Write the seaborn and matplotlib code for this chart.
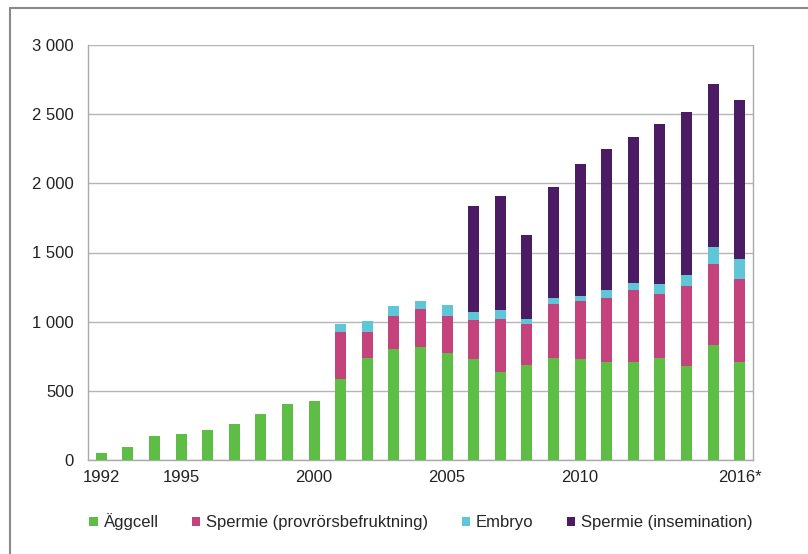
import pandas as pd
import numpy as np
import seaborn as sns
import matplotlib.pyplot as plt
from matplotlib.patches import Patch
from matplotlib.lines import Line2D

# Data
years = [str(y) for y in range(1992, 2016)] + ['2016*']
aggcell = [50, 95, 170, 185, 220, 260, 335, 405, 425, 585, 740, 805, 820,
           770, 730, 635, 690, 740, 730, 705, 705, 735, 680, 830, 705]
spermie_ivf = [0, 0, 0, 0, 0, 0, 0, 0, 0, 342, 186, 236, 270,
               272, 284, 386, 296, 391, 417, 465, 525, 465, 578, 590, 605]
embryo = [0, 0, 0, 0, 0, 0, 0, 0, 0, 53, 79, 70, 63,
          75, 56, 60, 32, 41, 36, 60, 49, 70, 78, 120, 142]
spermie_ins = [0, 0, 0, 0, 0, 0, 0, 0, 0, 0, 0, 0, 0,
               0, 764, 829, 605, 798, 959, 1020, 1053, 1160, 1181, 1175, 1147]
shown_labels = ['1992', '1995', '2000', '2005', '2010', '2016*']

series = ['Äggcell', 'Spermie (provrörsbefruktning)', 'Embryo', 'Spermie (insemination)']
colors = ['#5dbd45', '#c4437c', '#5ec6d6', '#4b1c63']

df = pd.DataFrame({'year': years, series[0]: aggcell, series[1]: spermie_ivf,
                   series[2]: embryo, series[3]: spermie_ins})
cum = df[series].cumsum(axis=1)

sns.set_style('white')
plt.rcParams['font.family'] = ['Liberation Sans', 'DejaVu Sans']

fig = plt.figure(figsize=(8.08, 5.54), dpi=100)
ax = fig.add_axes([88 / 808, 1 - 460 / 554, 665 / 808, 415 / 554])

# stacked bars: draw cumulative totals from the top layer down
for name, col in zip(series[::-1], colors[::-1]):
    sns.barplot(x=df['year'], y=cum[name], color=col, width=0.42,
                saturation=1, linewidth=0, edgecolor='none', ax=ax, zorder=3)

ax.set_xlim(-0.5, len(years) - 0.5)
ax.set_ylim(0, 3000)
ax.set_yticks(np.arange(0, 3001, 500))
ax.set_yticklabels([f'{v:,}'.replace(',', ' ') for v in range(0, 3001, 500)])
ax.set_xticks(range(len(years)))
ax.set_xticklabels([y if y in shown_labels else '' for y in years])
ax.set_xticks(np.arange(-0.5, len(years), 1), minor=True)
ax.tick_params(axis='x', which='major', length=0, pad=7, labelsize=12, colors='#222222')
ax.tick_params(axis='x', which='minor', length=5, color='#aaaaaa', width=1)
ax.tick_params(axis='y', length=5, color='#aaaaaa', pad=5, labelsize=12, colors='#222222')
ax.set_xlabel('')
ax.set_ylabel('')

ax.yaxis.grid(True, color='#b5b5b5', linewidth=1, zorder=0)
ax.set_axisbelow(True)
for s in ['left', 'bottom', 'right']:
    ax.spines[s].set_color('#aaaaaa')
    ax.spines[s].set_linewidth(1)
ax.spines['top'].set_visible(False)

handles = [Patch(facecolor=c, edgecolor='none') for c in colors]
fig.legend(handles, series, loc='center', bbox_to_anchor=(421 / 808, 1 - 522 / 554),
           ncol=4, frameon=False, fontsize=12, handlelength=0.5, handleheight=0.5,
           handletextpad=0.35, columnspacing=2.0)

# outer chart border (cropped on right and bottom)
fig.add_artist(Line2D([10 / 808, 10 / 808], [0, 1 - 8 / 554], color='#8a8a8a', lw=1.5))
fig.add_artist(Line2D([10 / 808, 1], [1 - 8 / 554, 1 - 8 / 554], color='#8a8a8a', lw=1.5))

plt.savefig('out.png', dpi=100)
